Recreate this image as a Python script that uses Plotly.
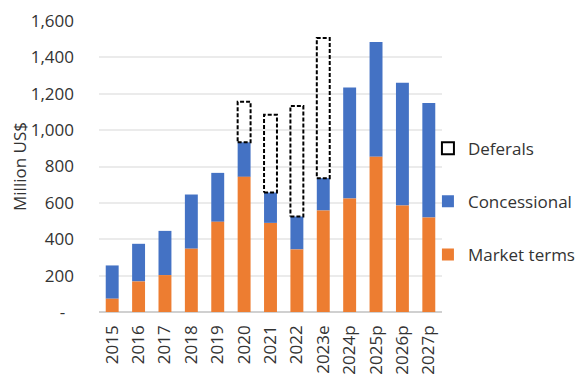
import plotly.graph_objects as go

categories = ["2015", "2016", "2017", "2018", "2019", "2020", "2021", "2022",
              "2023e", "2024p", "2025p", "2026p", "2027p"]
market_terms = [73, 168, 203, 348, 496, 743, 490, 344, 558, 624, 854, 585, 519]
concessional = [183, 207, 243, 298, 269, 190, 167, 181, 178, 611, 630, 675, 630]
deferals = [None, None, None, None, None, 223, 428, 608, 770, None, None, None, None]
y_tickvals = [0, 200, 400, 600, 800, 1000, 1200, 1400, 1600]
y_ticktext = ["-\u00a0\u00a0", "200", "400", "600", "800", "1,000", "1,200", "1,400", "1,600"]

ORANGE = "#ED7D31"
BLUE = "#4472C4"
BAR_W = 0.49
FONT = "Open Sans"
TXT = "#333333"

xpos = list(range(len(categories)))

fig = go.Figure()
# legend entry for deferals
fig.add_trace(go.Bar(x=[None], y=[None], name="Deferals", legendgroup="d",
                     marker=dict(color="white", line=dict(color="black", width=2))))
fig.add_trace(go.Bar(x=xpos, y=concessional, width=BAR_W, name="Concessional",
                     legendgroup="c", base=market_terms,
                     marker=dict(color=BLUE, line=dict(width=0))))
fig.add_trace(go.Bar(x=xpos, y=market_terms, width=BAR_W, name="Market terms",
                     legendgroup="m",
                     marker=dict(color=ORANGE, line=dict(width=0))))

# dashed outline boxes for deferals, stacked on top of the bars
rx, ry = [], []
for i, d in enumerate(deferals):
    if d is None:
        continue
    base = market_terms[i] + concessional[i]
    top = base + d
    x0, x1 = i - BAR_W / 2, i + BAR_W / 2
    rx += [x0, x1, x1, x0, x0, None]
    ry += [base, base, top, top, base, None]
fig.add_trace(go.Scatter(x=rx, y=ry, mode="lines", showlegend=False, hoverinfo="skip",
                         line=dict(color="black", width=2, dash="4px,2px")))

# the page body has an 8px default margin, so the figure is 8px smaller
fig.update_layout(
    barmode="overlay",
    width=579, height=369,
    margin=dict(l=91, r=145, t=13, b=65, autoexpand=False),
    paper_bgcolor="white", plot_bgcolor="white",
    font=dict(family=FONT, size=17, color=TXT),
    showlegend=True,
    legend=dict(x=0.959, xanchor="left", y=0.379, yanchor="middle",
                font=dict(size=17, color=TXT), itemwidth=30,
                traceorder="grouped", tracegroupgap=28,
                bgcolor="rgba(0,0,0,0)"),
    xaxis=dict(range=[-0.5, len(categories) - 0.5], tickmode="array",
               tickvals=xpos, ticktext=categories, tickangle=-90,
               showgrid=False, zeroline=False, showline=False, ticks="",
               ticklabelstandoff=9,
               automargin=False, tickfont=dict(size=17, color=TXT)),
    yaxis=dict(range=[0, 1600], tickmode="array", tickvals=y_tickvals,
               ticktext=y_ticktext, showgrid=True, gridcolor="#EBEBEB", gridwidth=1.5,
               zeroline=True, zerolinecolor="#D0D0D0", zerolinewidth=2,
               ticks="", ticklabelstandoff=24, automargin=False,
               title=dict(text="Million US$", font=dict(size=17, color=TXT), standoff=4),
               tickfont=dict(size=17, color=TXT)),
)

fig.write_html("out.html")
